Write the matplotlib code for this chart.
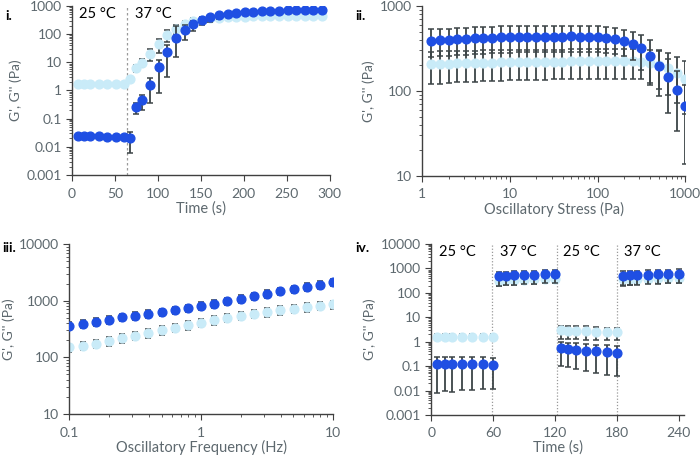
import numpy as np
import matplotlib
matplotlib.use("Agg")
import matplotlib.pyplot as plt
from matplotlib.ticker import LogLocator, NullFormatter

plt.rcParams['font.family'] = ['Lato', 'DejaVu Sans']

DARK = '#1f4fe3'
LIGHT = '#c9ebf8'
ERR = '#3c4446'
GREY = '#5d686e'

# --- panel i: temperature ramp ---
t1 = [7, 14, 21, 31, 41, 51, 61, 68, 74, 81, 91, 101, 111, 121, 131, 141, 151,
      161, 171, 181, 191, 201, 211, 221, 231, 241, 251, 261, 271, 281, 291]
g1p = [0.024, 0.024, 0.0235, 0.0235, 0.023, 0.023, 0.023, 0.02, 0.26, 0.47, 1.6,
       7, 24, 70, 140, 230, 320, 390, 470, 520, 560, 595, 620, 640, 660, 675,
       690, 700, 710, 720, 730]
g1p_lo = [0.003, 0.003, 0.003, 0.003, 0.003, 0.003, 0.003, 0.014, 0.11, 0.27, 1.25,
          6.2, 21, 55, 80, 100, 110, 120, 125, 130, 130, 135, 135, 140, 140, 140,
          145, 145, 145, 150, 150]
g1p_hi = [0.003, 0.003, 0.003, 0.003, 0.003, 0.003, 0.003, 0.015, 0.09, 0.25, 1.2,
          5, 16, 130, 70, 70, 80, 90, 100, 110, 110, 115, 120, 120, 125, 125,
          130, 130, 130, 135, 135]
g1pp = [1.7, 1.7, 1.7, 1.7, 1.7, 1.7, 1.7, 2.6, 6.5, 9.6, 20, 44, 94, 157, 225,
        285, 330, 360, 385, 400, 410, 420, 425, 430, 435, 440, 445, 448, 450, 452, 455]
g1pp_err = [0.15, 0.15, 0.15, 0.15, 0.15, 0.15, 0.15, 0.4, 1.8, 3, 9, 22, 42, 60,
            75, 80, 80, 80, 80, 80, 80, 80, 80, 80, 80, 80, 80, 80, 80, 80, 80]

# --- panel ii: amplitude sweep ---
s2 = [1.26, 1.58, 2.0, 2.51, 3.16, 3.98, 5.01, 6.31, 7.94, 10, 12.6, 15.8, 20.0,
      25.1, 31.6, 39.8, 50.1, 63.1, 79.4, 100, 126, 158, 200, 251, 316, 398,
      501, 631, 794, 1000]
g2p = [390, 395, 400, 405, 410, 415, 420, 425, 428, 430, 432, 433, 434, 435, 436,
       437, 438, 437, 435, 432, 425, 412, 390, 360, 318, 258, 197, 145, 102, 66]
g2p_err = [140, 140, 142, 142, 143, 144, 145, 146, 147, 147, 147, 148, 148, 148,
           148, 148, 148, 148, 147, 146, 144, 140, 135, 130, 140, 140, 110, 90, 68, 52]
g2pp = [205, 207, 209, 211, 213, 214, 215, 216, 217, 218, 219, 220, 220, 221,
        222, 222, 223, 223, 224, 224, 225, 225, 225, 224, 222, 215, 200, 185, 163, 138]
g2pp_err = [85, 85, 85, 85, 85, 85, 85, 85, 85, 85, 85, 85, 85, 85, 85, 85, 85,
            85, 85, 85, 85, 85, 85, 85, 85, 90, 95, 95, 90, 85]

# --- panel iii: frequency sweep ---
f3 = [0.1, 0.126, 0.158, 0.2, 0.251, 0.316, 0.398, 0.501, 0.631, 0.794, 1.0,
      1.26, 1.58, 2.0, 2.51, 3.16, 3.98, 5.01, 6.31, 7.94, 10]
g3p = [362, 392, 425, 465, 506, 543, 585, 630, 682, 740, 815, 885, 985, 1080,
       1200, 1340, 1480, 1610, 1760, 1930, 2100]
g3pp = [150, 160, 175, 193, 218, 243, 270, 300, 335, 370, 410, 455, 500, 540,
        585, 630, 680, 725, 775, 815, 860]

# --- panel iv: temperature cycling ---
t4 = [6, 13, 20, 30, 40, 50, 60, 66, 73, 80, 90, 100, 110, 120,
      126, 133, 140, 150, 160, 170, 180, 186, 193, 200, 210, 220, 230, 240]
g4p = [0.12, 0.12, 0.12, 0.12, 0.12, 0.12, 0.115, 480, 500, 520, 540, 560, 580, 590,
       0.55, 0.48, 0.46, 0.43, 0.40, 0.37, 0.35, 500, 520, 540, 560, 580, 600, 620]
g4p_lo = [0.112, 0.11, 0.111, 0.109, 0.109, 0.108, 0.103, 280, 290, 300, 310, 320, 330, 340,
          0.45, 0.39, 0.385, 0.365, 0.35, 0.325, 0.31, 300, 310, 320, 330, 340, 350, 360]
g4p_hi = [0.12, 0.11, 0.11, 0.11, 0.11, 0.11, 0.11, 250, 250, 250, 250, 250, 250, 250,
          0.45, 0.42, 0.4, 0.37, 0.35, 0.33, 0.31, 280, 280, 280, 290, 290, 300, 300]
g4pp = [1.6, 1.6, 1.6, 1.6, 1.6, 1.6, 1.6, 320, 330, 335, 345, 355, 365, 380,
        2.95, 2.85, 2.8, 2.7, 2.6, 2.5, 2.45, 360, 370, 375, 385, 390, 395, 400]
g4pp_err = [0.45, 0.45, 0.45, 0.45, 0.45, 0.45, 0.45, 120, 115, 115, 120, 120, 120, 120,
            1.6, 1.6, 1.5, 1.5, 1.4, 1.3, 1.3, 150, 150, 140, 140, 140, 140, 140]

fig = plt.figure(figsize=(7, 4.57), dpi=100)
ax1 = fig.add_axes([0.103, 0.617, 0.368, 0.370])
ax2 = fig.add_axes([0.603, 0.615, 0.376, 0.372])
ax3 = fig.add_axes([0.099, 0.094, 0.377, 0.372])
ax4 = fig.add_axes([0.616, 0.092, 0.361, 0.374])


def style(ax, xlabel):
    ax.set_yscale('log')
    for sp in ['top', 'right']:
        ax.spines[sp].set_visible(False)
    for sp in ['left', 'bottom']:
        ax.spines[sp].set_color('#404040')
        ax.spines[sp].set_linewidth(1.0)
    ax.tick_params(which='both', direction='out', colors='#404040',
                   labelcolor=GREY, labelsize=10)
    ax.tick_params(which='major', length=4)
    ax.tick_params(which='minor', length=2.5)
    ax.tick_params(axis='x', which='major', pad=5)
    ax.yaxis.set_major_locator(LogLocator(base=10, numticks=20))
    ax.yaxis.set_minor_locator(LogLocator(base=10, subs=np.arange(2, 10), numticks=20))
    ax.yaxis.set_minor_formatter(NullFormatter())
    ax.yaxis.set_major_formatter(plt.FuncFormatter(lambda v, p: ('%g' % v)))
    ax.set_ylabel("G', G'' (Pa)", color=GREY, fontsize=10, labelpad=3)
    ax.set_xlabel(xlabel, color=GREY, fontsize=10.5, labelpad=1)


def pts(ax, x, y, err, color, z):
    ax.errorbar(x, y, yerr=err, fmt='o', ms=6.3, mfc=color, mec=color,
                ecolor=ERR, elinewidth=1.3, capsize=2.5, capthick=1.1, zorder=z)


# panel i
style(ax1, 'Time (s)')
pts(ax1, t1, g1pp, g1pp_err, LIGHT, 2)
pts(ax1, t1, g1p, [g1p_lo, g1p_hi], DARK, 3)
ax1.set_xlim(0, 300)
ax1.set_ylim(0.001, 1000)
ax1.set_xticks([0, 50, 100, 150, 200, 250, 300])
ax1.axvline(64, color='#9a9a9a', lw=0.9, ls=(0, (2, 2)), zorder=1)
ax1.text(8, 900, '25 °C', fontsize=10.5, va='top')
ax1.text(73, 900, '37 °C', fontsize=10.5, va='top')

# panel ii
style(ax2, 'Oscillatory Stress (Pa)')
ax2.set_xscale('log')
pts(ax2, s2, g2pp, g2pp_err, LIGHT, 2)
pts(ax2, s2, g2p, g2p_err, DARK, 3)
ax2.set_xlim(1, 1000)
ax2.set_ylim(10, 1000)
ax2.xaxis.set_major_formatter(plt.FuncFormatter(lambda v, p: ('%g' % v)))
ax2.xaxis.set_minor_formatter(NullFormatter())

# panel iii
style(ax3, 'Oscillatory Frequency (Hz)')
ax3.set_xscale('log')
pts(ax3, f3, g3pp, [np.array(g3pp) * 0.17, np.array(g3pp) * 0.17], LIGHT, 2)
pts(ax3, f3, g3p, [np.array(g3p) * 0.15, np.array(g3p) * 0.15], DARK, 3)
ax3.set_xlim(0.1, 10)
ax3.set_ylim(10, 10000)
ax3.xaxis.set_major_formatter(plt.FuncFormatter(lambda v, p: ('%g' % v)))
ax3.xaxis.set_minor_formatter(NullFormatter())

# panel iv
style(ax4, 'Time (s)')
pts(ax4, t4, g4pp, g4pp_err, LIGHT, 2)
pts(ax4, t4, g4p, [g4p_lo, g4p_hi], DARK, 3)
ax4.set_xlim(0, 245)
ax4.set_ylim(0.001, 10000)
ax4.set_xticks([0, 60, 120, 180, 240])
for xv in [59, 121.5, 180]:
    ax4.axvline(xv, color='#9a9a9a', lw=0.9, ls=(0, (1, 1.5)), zorder=1)
for xv, s in [(8, '25 °C'), (67, '37 °C'), (128, '25 °C'), (187, '37 °C')]:
    ax4.text(xv, 9000, s, fontsize=10.5, va='top')

for x, y, s in [(0.007, 0.978, 'i.'), (0.507, 0.978, 'ii.'),
                (0.003, 0.47, 'iii.'), (0.507, 0.47, 'iv.')]:
    fig.text(x, y, s, fontsize=10, fontweight='bold', va='top')

fig.savefig('out.png', dpi=100)
